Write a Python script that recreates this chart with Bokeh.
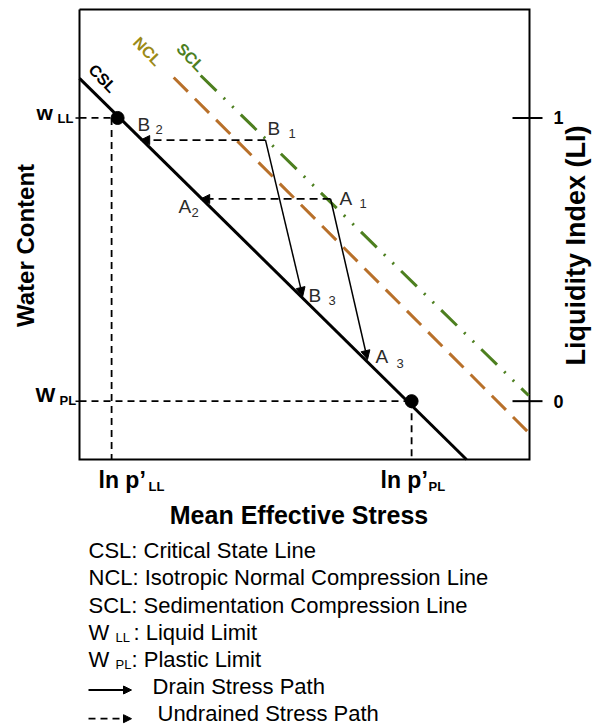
import math
from bokeh.plotting import figure
from bokeh.models import Label, Arrow, NormalHead, Range1d
from bokeh.embed import file_html
from bokeh.resources import INLINE

# ---------------- data (schematic) ----------------
# x: ln p' normalised so that ln p'_LL = 0 and ln p'_PL = 1
# y: liquidity index (w_LL -> 1, w_PL -> 0)
x_limits = (-0.107, 1.393)     # extent of the plotting box
y_limits = (-0.206, 1.383)
lnp_ll, lnp_pl = 0.0, 1.0
w_ll, w_pl = 1.0, 0.0
li_ticks = [0, 1]
li_labels = ["0", "1"]

csl_x = [-0.107, 1.183]
csl_y = [1.140, -0.206]
ncl_x = [0.207, 1.390]
ncl_y = [1.143, -0.111]
scl_x = [0.297, 1.390]
scl_y = [1.150, 0.020]

limit_x = [0.02, 1.0]
limit_y = [1.0, 0.0]

# stress states: index 0 = state 1 (start), 1 = state 2 (undrained end), 2 = state 3 (drained end)
b_x = [0.513, 0.097, 0.637]
b_y = [0.922, 0.922, 0.370]
a_x = [0.730, 0.297, 0.853]
a_y = [0.714, 0.714, 0.147]

legend_lines = [
    "CSL: Critical State Line",
    "NCL: Isotropic Normal Compression Line",
    "SCL: Sedimentation Compression Line",
]

FONT = "Liberation Sans"
NCL_TEXT = "#9c8a17"
NCL_LINE = "#b8702a"
SCL_COL = "#4d7f1f"
LETTER_COL = "#2b2b2b"

# ---------------- layout: the box sits at page px x 79..529, y 9..459 ----------------
W, H = 595, 727
BL, BT, BW, BH = 79, 9, 450, 450
sx_ = (x_limits[1] - x_limits[0]) / BW      # data units per pixel
sy_ = (y_limits[1] - y_limits[0]) / BH
xr = (x_limits[0] - BL * sx_, x_limits[1] + (W - BL - BW) * sx_)
yr = (y_limits[0] - (H - BT - BH) * sy_, y_limits[1] + BT * sy_)

p = figure(width=W, height=H, output_backend="svg", toolbar_location=None,
           x_range=Range1d(*xr), y_range=Range1d(*yr),
           x_axis_location=None, y_axis_location=None, min_border=0,
           background_fill_color="white", border_fill_color="white")
p.grid.visible = False
p.outline_line_color = None

def dx(px):
    return xr[0] + px * sx_
def dy(py):
    return yr[1] - py * sy_

# plotting box
x0, x1 = x_limits
y0, y1 = y_limits
p.line([x0, x1, x1, x0, x0], [y1, y1, y0, y0, y1], line_color="black", line_width=2,
       line_join="miter")

# axis ticks (left: w_LL / w_PL, right: liquidity index)
p.segment(x0=[x0 - 4 * sx_] * 2, y0=[w_ll, w_pl], x1=[x0] * 2, y1=[w_ll, w_pl],
          line_color="black", line_width=1.5)
p.segment(x0=[x1 - 17 * sx_] * len(li_ticks), y0=li_ticks, x1=[x1 + 13 * sx_] * len(li_ticks),
          y1=li_ticks, line_color="black", line_width=2)
for t, lab in zip(li_ticks, li_labels):
    p.add_layout(Label(x=x1 + 24 * sx_, y=t, text=lab, text_font=FONT, text_font_size="18px",
                       text_font_style="bold", text_color="black", text_align="left",
                       text_baseline="middle"))

# reference (limit) dashed lines
ref_xs = [[x0, limit_x[0]], [lnp_ll, lnp_ll], [x0, limit_x[1]], [lnp_pl, lnp_pl]]
ref_ys = [[w_ll, w_ll], [w_ll, y0], [w_pl, w_pl], [w_pl, y0]]
p.multi_line(ref_xs, ref_ys, line_color="black", line_width=1.8, line_dash="7 5")

# compression lines
p.line(ncl_x, ncl_y, line_color=NCL_LINE, line_width=3, line_dash="20 10")
p.line(scl_x, scl_y, line_color=SCL_COL, line_width=3, line_dash="22 10 2 10 2 10")
p.line(csl_x, csl_y, line_color="black", line_width=3)

# limit points
p.scatter(limit_x, limit_y, size=13, fill_color="black", line_color="black")

# stress paths
def arrow(xs, ys, xe, ye, dash, width, head=9):
    p.add_layout(Arrow(end=NormalHead(size=head, fill_color="black", line_color="black", line_width=1),
                       x_start=xs, y_start=ys, x_end=xe, y_end=ye,
                       line_color="black", line_width=width, line_dash=dash))

for sx, sy in ((b_x, b_y), (a_x, a_y)):
    arrow(sx[0], sy[0], sx[1], sy[1], "8 5", 1.8)   # undrained
    arrow(sx[0], sy[0], sx[2], sy[2], "solid", 1.5)  # drained

# ---------------- texts ----------------
CAP = 0.358   # half of the cap height, in em, used to centre texts vertically

def txt(s, px, py, size, bold=False, color="black", align="left", angle=0.0, centred=False):
    """py is the baseline in page pixels unless centred=True (then it is the centre)."""
    cy = py if centred else py - CAP * size
    p.add_layout(Label(x=dx(px), y=dy(cy), text=s, text_font=FONT,
                       text_font_size=f"{size}px",
                       text_font_style="bold" if bold else "normal",
                       text_color=color, text_align=align, text_baseline="middle",
                       angle=angle))

def vtxt(s, cx, cy, size):
    p.add_layout(Label(x=dx(cx), y=dy(cy), text=s, text_font=FONT,
                       text_font_size=f"{size}px", text_font_style="bold",
                       text_color="black", text_align="center", text_baseline="middle",
                       angle=math.pi / 2))

# line labels
ang = -0.80
txt("CSL", 102, 78, 16, bold=True, color="black", align="center", angle=ang, centred=True)
txt("NCL", 147, 51, 16, bold=True, color=NCL_TEXT, align="center", angle=ang, centred=True)
txt("SCL", 190, 57, 16, bold=True, color=SCL_COL, align="center", angle=ang, centred=True)

# stress-state letters (letter baseline, subscript baseline)
states = [("B", "1", 267, 135, 288, 138), ("B", "2", 137, 131, 155, 134),
          ("A", "2", 178, 213, 191, 217), ("A", "1", 339, 205, 359, 208),
          ("B", "3", 308, 302, 328, 305), ("A", "3", 375, 363, 396, 368)]
for letter, sub, lx, lyb, sxp, syb in states:
    txt(letter, lx, lyb, 19, color=LETTER_COL)
    txt(sub, sxp, syb, 13, color=LETTER_COL)

# left tick labels
txt("w", 36, 120, 21, bold=True)
txt("LL", 57, 123, 13, bold=True)
txt("W", 35, 402, 21, bold=True)
txt("PL", 59, 405, 13, bold=True)

# bottom tick labels
txt("ln p\u2019", 98, 488, 23, bold=True)
txt("LL", 148, 491, 13, bold=True)
txt("ln p\u2019", 380, 488, 23, bold=True)
txt("PL", 428, 491, 13, bold=True)

# axis titles
txt("Mean Effective Stress", 298.5, 523, 25, bold=True, align="center")
vtxt("Water Content", 25, 245, 24)
vtxt("Liquidity Index (LI)", 575, 245, 27)

# legend
base0, step = 558.0, 27.2
rows = [base0 + i * step for i in range(7)]
for i, s in enumerate(legend_lines):
    txt(s, 88, rows[i], 22)
txt("W", 88, rows[3], 22)
txt("LL", 115, rows[3] + 2, 13)
txt(": Liquid Limit", 133, rows[3], 22)
txt("W", 88, rows[4], 22)
txt("PL", 115, rows[4] + 2, 13)
txt(": Plastic Limit", 131, rows[4], 22)

arrow(dx(88), dy(rows[5] - 4.5), dx(131), dy(rows[5] - 4.5), "solid", 1.8, head=8)
txt("Drain Stress Path", 152, rows[5], 22)
arrow(dx(88), dy(rows[6] - 3), dx(131), dy(rows[6] - 3), "7 5", 1.8, head=8)
txt("Undrained Stress Path", 157, rows[6], 22)

open("out.html", "w").write(file_html(p, INLINE))
